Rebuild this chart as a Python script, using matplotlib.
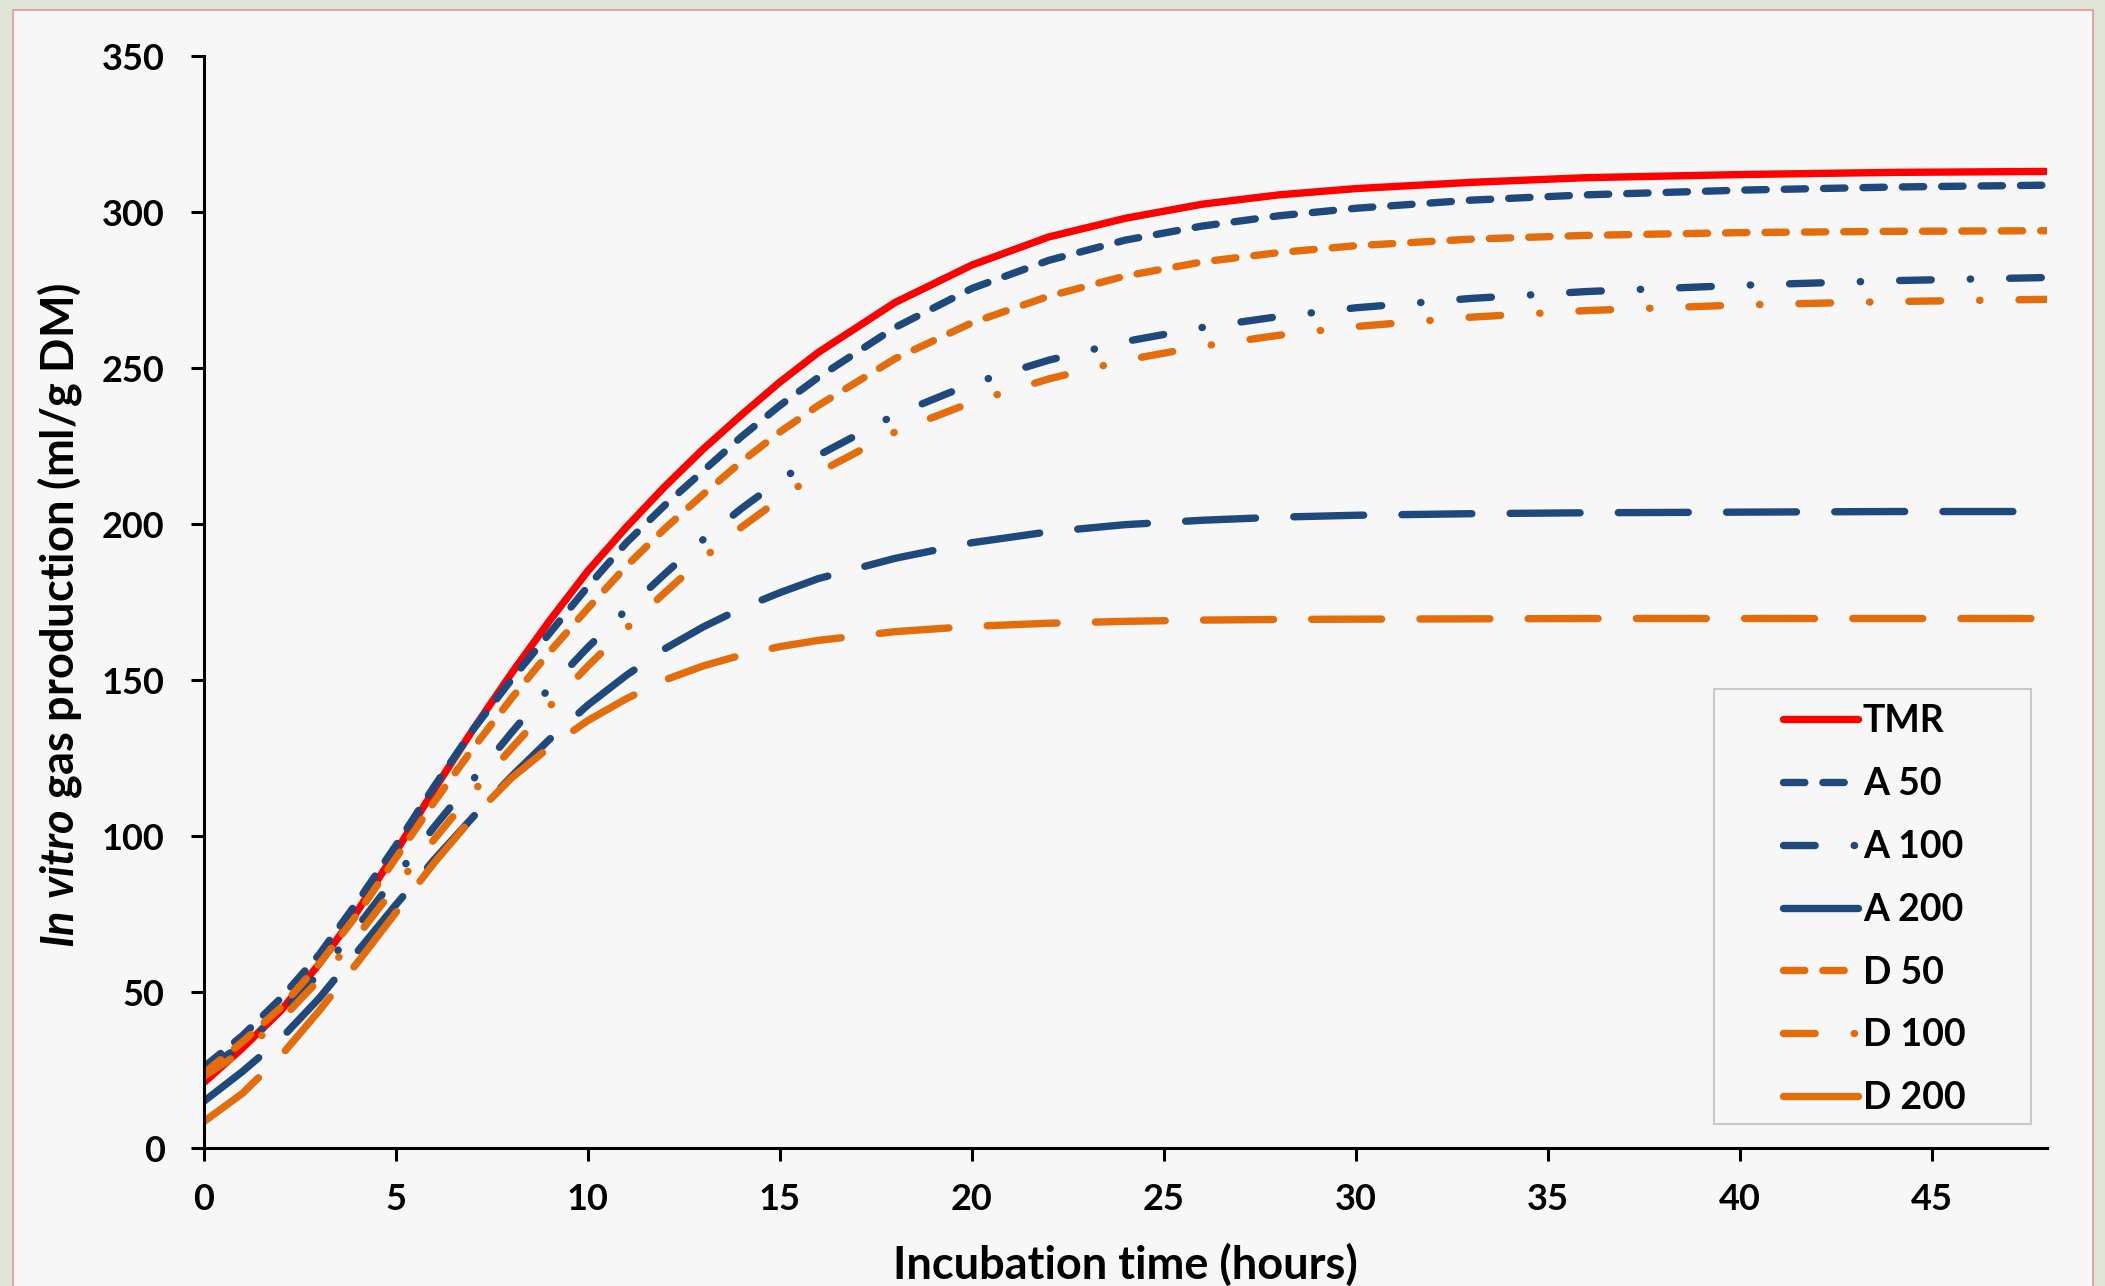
import matplotlib
matplotlib.use("Agg")
import matplotlib.pyplot as plt
import matplotlib.patches as patches
from matplotlib.lines import Line2D

plt.rcParams['font.family'] = ['Lato', 'DejaVu Sans']
plt.rcParams['font.weight'] = 'bold'
plt.rcParams['mathtext.fontset'] = 'custom'
plt.rcParams['mathtext.it'] = 'Lato:italic:bold'
plt.rcParams['mathtext.rm'] = 'Lato:bold'

# Data
hours = [0, 1, 2, 3, 4, 5, 6, 7, 8, 9, 10, 11, 12, 13, 14, 15, 16,
         18, 20, 22, 24, 26, 28, 30, 33, 36, 40, 44, 48]
tmr  = [21, 32, 44, 59, 76, 95, 115, 134, 152, 169, 185, 199, 212, 224, 235, 245.5, 255,
        271, 283, 292, 298, 302.5, 305.5, 307.5, 309.5, 311, 312, 312.7, 313]
a50  = [26, 36, 48, 62, 79, 97, 116, 134, 150, 165, 180, 194, 206, 217, 228, 238, 247,
        263, 275.5, 284.5, 291, 295.5, 298.8, 301.2, 303.8, 305.5, 307, 308, 308.6]
a100 = [25, 33, 43, 56, 71, 87, 103, 118, 133, 147.5, 160.5, 172.5, 184, 195, 205, 214, 222,
        235, 245, 252.5, 258.5, 263, 266.5, 269.3, 272.3, 274.5, 276.5, 278, 279]
a200 = [15, 24.5, 35, 48, 63, 78, 92.5, 106, 119, 131, 142, 151.5, 160, 167, 173, 178, 182.5,
        189, 194, 197.5, 199.8, 201.2, 202.2, 202.8, 203.3, 203.6, 203.8, 204, 204]
d50  = [24, 34, 45, 59, 75, 93, 111, 128, 144, 159, 173, 186.5, 198.5, 209.5, 220, 229.5, 238,
        253, 264.5, 273, 279.5, 284, 287, 289.2, 291.3, 292.5, 293.4, 293.8, 294]
d100 = [23, 31, 41, 54, 68, 84, 99, 114, 128, 141.5, 154.5, 166.5, 178, 189, 199, 208, 216.5,
        229.5, 239, 246.5, 252.5, 257, 260.5, 263.3, 266.3, 268.4, 270.2, 271.3, 272]
d200 = [8.5, 17.5, 29.5, 44, 59.5, 75.5, 91.5, 106, 118.5, 128.5, 137, 144, 150, 154.5, 158, 160.7, 162.7,
        165.5, 167.2, 168.2, 168.8, 169.2, 169.4, 169.5, 169.6, 169.7, 169.7, 169.7, 169.7]

names = ['TMR', 'A 50', 'A 100', 'A 200', 'D 50', 'D 100', 'D 200']
series = [tmr, a50, a100, a200, d50, d100, d200]

red = '#ff0000'
blue = '#1f497d'
orange = '#e46c0a'
colors = [red, blue, blue, blue, orange, orange, orange]
short_dash = (0, (2.9, 2.45))
dash_dot = (0, (4.3, 5.3, 0.05, 5.3))
long_dash = (0, (9.5, 5.2))
styles = ['-', short_dash, dash_dot, long_dash, short_dash, dash_dot, long_dash]
legend_styles = ['-', short_dash, dash_dot, '-', short_dash, dash_dot, '-']

W, H = 2105, 1286
fig = plt.figure(figsize=(W / 100, H / 100), dpi=100, facecolor='#dfe5d6')

# light panel behind the chart
panel = patches.Rectangle((13 / W, -0.01), (2093 - 13) / W, 1 - 10 / H + 0.01,
                          transform=fig.transFigure, facecolor='#f7f7f7',
                          edgecolor='#e5a3a3', linewidth=1.5, zorder=0)
fig.add_artist(panel)

ax = fig.add_axes([204 / W, 1 - 1148 / H, (2047 - 204) / W, (1148 - 56) / H])
ax.set_facecolor('none')

lw = 5.3
for name, ys, c, st in zip(names, series, colors, styles):
    cap = 'butt' if st == '-' else 'round'
    ax.plot(hours, ys, color=c, linestyle=st, linewidth=lw,
            dash_capstyle='round', solid_capstyle=cap, label=name)

ax.set_xlim(0, 48)
ax.set_ylim(0, 350)
ax.set_xticks(range(0, 50, 5))
ax.set_yticks(range(0, 351, 50))

for s in ['top', 'right']:
    ax.spines[s].set_visible(False)
for s in ['left', 'bottom']:
    ax.spines[s].set_linewidth(2.2)
ax.tick_params(direction='out', length=9.4, width=2.2, labelsize=26)
ax.tick_params(axis='y', pad=19)
ax.tick_params(axis='x', pad=16)

ax.set_xlabel('Incubation time (hours)', fontsize=32.5, fontweight='bold', va='center')
ax.xaxis.set_label_coords(0.5, -(1265 - 1148) / (1148 - 56))
ax.set_ylabel(r'$\mathit{In\ vitro}$ gas production (ml/g DM)', fontsize=32.5,
              fontweight='bold', va='center')
ax.yaxis.set_label_coords(-(204 - 60) / (2047 - 204), (1148 - 615) / (1148 - 56))

# legend: frame drawn separately
ax_w, ax_h = 2047 - 204, 1148 - 56
frame = patches.Rectangle(((1714 - 204) / ax_w, (1148 - 1124) / ax_h),
                          (2031 - 1714) / ax_w, (1124 - 689) / ax_h,
                          transform=ax.transAxes, facecolor='#f7f7f7',
                          edgecolor='#c8c8c8', linewidth=1.5, zorder=5)
ax.add_patch(frame)

handles = [Line2D([], [], color=c, linestyle=st, linewidth=lw,
                  dash_capstyle='round', solid_capstyle='round')
           for c, st in zip(colors, legend_styles)]
leg = ax.legend(handles, names, loc='upper left', frameon=False,
                bbox_to_anchor=((1783 - 204) / ax_w, (1148 - 704) / ax_h),
                borderpad=0, borderaxespad=0, handlelength=2.0,
                handletextpad=0.13, labelspacing=0.77,
                prop={'weight': 'bold', 'size': 27})
leg.set_zorder(6)

fig.savefig('out.png', dpi=100, facecolor=fig.get_facecolor())
